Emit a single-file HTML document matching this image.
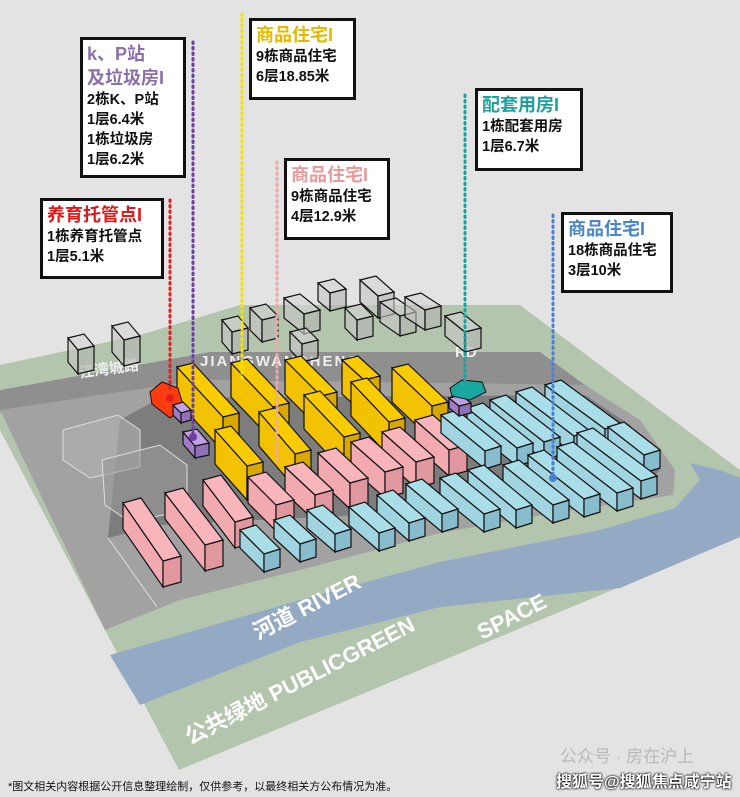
<!DOCTYPE html>
<html><head><meta charset="utf-8">
<style>
html,body{margin:0;padding:0;}
body{width:740px;height:797px;background:#e3e3e3;position:relative;overflow:hidden;font-family:"Liberation Sans","Noto Sans CJK SC",sans-serif;}
svg{position:absolute;left:0;top:0;}
.box{position:absolute;background:#fff;border:3px solid #111;box-sizing:border-box;padding:2px 0 0 4px;font-weight:bold;color:#111;font-size:14.5px;line-height:20px;white-space:nowrap;}
.t{font-size:18px;line-height:24px;}
.foot{position:absolute;font-size:11px;color:#111;left:8px;top:778px;}
</style></head><body>
<svg id="s" width="740" height="797" viewBox="0 0 740 797">
<!-- green base -->
<polygon points="0,365 140,335 240,305 520,305 740,470 740,537 179,770 105,630 0,430" fill="#b3c6ad"/>
<!-- river -->
<polygon points="110,655 300,600 440,562 600,530 675,508 700,480 690,463 720,470 740,478 740,537 620,588 440,607 300,642 140,705" fill="#93a9c4"/>
<!-- road -->
<polygon points="0,390 100,372 210,352 540,352 585,385 200,380 0,412" fill="#8f8f8f"/>
<!-- site plate -->
<polygon points="0,410 200,380 585,385 640,420 675,470 673,495 560,512 440,533 300,570 180,600 105,630 0,410" fill="#a2a2a2"/>
<polygon points="108,538 160,525 560,505 640,490 660,470 630,425 585,395 160,398 120,420" fill="#7d7d7d"/>
<polyline points="108,538 157,607" stroke="#ddd" stroke-width="1" fill="none"/>
<g fill="#fff" font-weight="bold" font-family="Liberation Sans,Noto Sans CJK SC,sans-serif">
<text x="258" y="640" font-size="22" transform="rotate(-27 258 640)">河道 RIVER</text>
<text x="190" y="745" font-size="22" transform="rotate(-27 190 745)">公共绿地 PUBLICGREEN</text>
<text x="482" y="640" font-size="22" transform="rotate(-27 482 640)">SPACE</text>
</g>
<g fill="#eee" font-weight="bold" font-family="Liberation Sans,Noto Sans CJK SC,sans-serif">
<text x="200" y="366" font-size="15" letter-spacing="2">JIANGWANCHENG</text>
<text x="455" y="357" font-size="15">RD</text>
<text x="80" y="378" font-size="15" transform="rotate(-8 80 378)">江湾城路</text>
</g>
<g id="bld"></g>
<g stroke-dasharray="1.5 4" stroke-width="3" stroke-linecap="round" fill="none">
<line x1="170" y1="200" x2="170" y2="392" stroke="#e02020"/>
<line x1="193" y1="42" x2="193" y2="436" stroke="#6a3fa0"/>
<line x1="242" y1="14" x2="242" y2="378" stroke="#f4e200"/>
<line x1="277" y1="162" x2="277" y2="462" stroke="#f0a8a8"/>
<line x1="465" y1="95" x2="465" y2="382" stroke="#1aa0a0"/>
<line x1="553" y1="215" x2="553" y2="478" stroke="#4a80d0"/>
</g>
<circle cx="170" cy="398" r="4" fill="#e02020"/>
<circle cx="193" cy="437" r="4" fill="#6a3fa0"/>
<circle cx="553" cy="478" r="4" fill="#4a80d0"/>
</svg>
<div class="box" style="left:80px;top:37px;width:106px;height:141px;"><div class="t" style="color:#8a6fb0">k、P站</div><div class="t" style="color:#8a6fb0">及垃圾房I</div>2栋K、P站<br>1层6.4米<br>1栋垃圾房<br>1层6.2米</div>
<div class="box" style="left:249px;top:18px;width:107px;height:82px;"><div class="t" style="color:#e8b800">商品住宅I</div>9栋商品住宅<br>6层18.85米</div>
<div class="box" style="left:475px;top:88px;width:108px;height:83px;"><div class="t" style="color:#1ea0a0">配套用房I</div>1栋配套用房<br>1层6.7米</div>
<div class="box" style="left:284px;top:158px;width:106px;height:82px;"><div class="t" style="color:#e89a9a">商品住宅I</div>9栋商品住宅<br>4层12.9米</div>
<div class="box" style="left:40px;top:198px;width:124px;height:81px;"><div class="t" style="color:#e01818">养育托管点I</div>1栋养育托管点<br>1层5.1米</div>
<div class="box" style="left:561px;top:212px;width:112px;height:81px;"><div class="t" style="color:#4a86c8">商品住宅I</div>18栋商品住宅<br>3层10米</div>
<div class="foot">*图文相关内容根据公开信息整理绘制，仅供参考，以最终相关方公布情况为准。</div>
<div style="position:absolute;left:560px;top:742px;font-size:17px;color:#b8b8b8;">公众号 · 房在沪上</div>
<div style="position:absolute;left:556px;top:768px;font-size:16px;font-weight:bold;color:#fff;text-shadow:0 0 2px #000,0 0 2px #000;">搜狐号@搜狐焦点咸宁站</div>
<script>
var g=document.getElementById('bld'),h='';
function box(x,y,Lx,Ly,H,top,side,end,Sx,Sy,op){
 Sx=Sx||16;Sy=(Sy===undefined)?-5:Sy;op=op||1;
 var p=[x,y],pL=[x+Lx,y+Ly],pS=[x+Sx,y+Sy],pLS=[x+Lx+Sx,y+Ly+Sy];
 function P(a){return a.map(function(q){return q[0]+','+q[1]}).join(' ')}
 var st=' stroke="#111" stroke-width="1.2" fill-opacity="'+op+'"';
 h+='<polygon points="'+P([p,pL,[pL[0],pL[1]+H],[p[0],p[1]+H]])+'" fill="'+side+'"'+st+'/>';
 h+='<polygon points="'+P([pL,pLS,[pLS[0],pLS[1]+H],[pL[0],pL[1]+H]])+'" fill="'+end+'"'+st+'/>';
 h+='<polygon points="'+P([p,pS,pLS,pL])+'" fill="'+top+'"'+st+'/>';
}
// gray background buildings (transparent)
var gb=[[68,338,10,12,24],[112,326,12,14,26],[222,320,10,12,22],[250,308,12,12,22],[284,298,20,16,20],[318,283,12,10,18],[345,308,12,12,20],[360,280,18,16,22],[380,302,20,14,20],[405,297,20,13,20],[445,316,20,16,20],[290,332,12,12,18]];
gb.forEach(function(b){box(b[0],b[1],b[2],b[3],b[4],'#d4d4d4','#c4c4c4','#b4b4b4',16,-4,0.6)});
h+='<polygon points="63,430 118,415 140,430 140,467 90,478 63,460" fill="#b0b0b0" fill-opacity="0.6" stroke="#ddd"/>';
h+='<polygon points="102,460 160,445 187,465 187,510 130,522 105,505" fill="#999" fill-opacity="0.6" stroke="#ddd"/>';
var Y='#f8cc00',Yd='#f2c200',Ye='#d8a800';
[[177,367,46,50],[231,363,42,44],[285,360,36,36],[342,360,22,20],[392,368,40,38],[215,430,32,36],[259,412,36,42],[304,395,40,42],[351,382,38,40]].forEach(function(b){box(b[0],b[1],b[2],b[3],34,Y,Yd,Ye,16,-4)});
var Pk='#f8b6bc',Pd='#f2aab0',Pe='#e0989e';
[[415,420,34,30],[382,432,34,30],[351,442,34,30],[318,453,32,30],[285,467,30,28],[248,477,28,28],[203,480,32,42],[165,493,40,52],[123,503,40,58]].forEach(function(b){box(b[0],b[1],b[2],b[3],26,Pk,Pd,Pe,18,-5)});
var B='#a9dde8',Bd='#a0d4e0',Be='#86bccb';
[[545,385,60,44],[516,392,58,44],[490,400,54,42],[467,408,50,40],[441,415,44,36],[608,427,36,28],[577,433,64,48],[557,447,60,46],[528,455,56,44],[503,465,50,40],[468,470,48,40],[440,478,44,36],[406,484,36,30],[377,495,32,28],[349,507,30,26],[307,510,28,24],[274,520,26,24],[240,530,24,24]].forEach(function(b){box(b[0],b[1],b[2],b[3],18,B,Bd,Be,16,-5)});
h+='<polygon points="150,392 162,382 178,388 184,408 170,418 152,404" fill="#ff3b10" stroke="#111"/>';
box(173,405,8,8,10,'#c0a0e0','#a07cc8','#9070b8',10,-3);
box(183,432,12,14,12,'#c0a0e0','#a07cc8','#9070b8',14,-3);
box(449,398,10,8,10,'#c0a0e0','#a07cc8','#9070b8',12,-3);
h+='<polygon points="450,388 462,380 482,382 486,392 470,400 452,396" fill="#18a8a0" stroke="#111"/>';
g.innerHTML=h;
</script>
</body></html>
